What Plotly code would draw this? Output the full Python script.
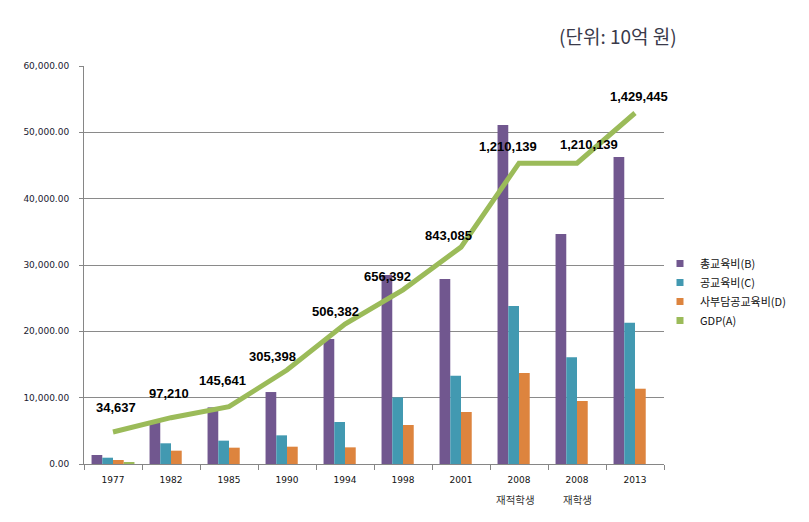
import plotly.graph_objects as go

categories = ["1977", "1982", "1985", "1990", "1994", "1998", "2001",
              "2008 재적학생", "2008 재학생", "2013"]
tick_labels = ["1977", "1982", "1985", "1990", "1994", "1998", "2001",
               "2008", "2008", "2013"]
sub_labels = {"2008 재적학생": "재적학생", "2008 재학생": "재학생"}

total_edu = [1360, 6380, 8540, 10850, 18850, 28500, 27900, 51100, 34680, 46280]      # 총교육비(B)
public_edu = [950, 3120, 3520, 4320, 6330, 10050, 13310, 23820, 16080, 21300]      # 공교육비(C)
private_burden = [600, 2010, 2460, 2610, 2510, 5880, 7840, 13720, 9500, 11350]     # 사부담공교육비(D)
gdp_bar = [300, 0, 0, 0, 0, 0, 0, 0, 0, 0]                                          # GDP(A) bar slot
gdp = [34637, 97210, 145641, 305398, 506382, 656392, 843085, 1210139, 1210139, 1429445]  # GDP(A)
gdp_text = ["34,637", "97,210", "145,641", "305,398", "506,382", "656,392",
            "843,085", "1,210,139", "1,210,139", "1,429,445"]

label_dx = [3, -2, -7, -15, -10, -16, -13, -11, 12, 4]
label_dy = [25, 24, 26, 14, 13, 13, 12, 17, 19, 17]

C_PURPLE = "#71578F"
C_TEAL = "#4299B1"
C_ORANGE = "#DD843E"
C_GREEN = "#9BBB59"

W, H = 809, 522
L, R, T, B = 84, 145, 66, 58
pw, ph = W - L - R, H - T - B

fig = go.Figure()
for name, vals, col in [("총교육비(B)", total_edu, C_PURPLE),
                        ("공교육비(C)", public_edu, C_TEAL),
                        ("사부담공교육비(D)", private_burden, C_ORANGE),
                        ("GDP(A)", gdp_bar, C_GREEN)]:
    fig.add_trace(go.Bar(x=categories, y=vals, name=name, marker_color=col,
                         marker_line_width=0, showlegend=False, hoverinfo="skip"))

fig.add_trace(go.Scatter(x=categories, y=gdp, yaxis="y2", mode="lines",
                         line=dict(color=C_GREEN, width=5), showlegend=False,
                         hoverinfo="skip"))

# legend entries (square symbols as in the reference)
for name, col in [("총교육비(B)", C_PURPLE), ("공교육비(C)", C_TEAL),
                  ("사부담공교육비(D)", C_ORANGE), ("GDP(A)", C_GREEN)]:
    fig.add_trace(go.Scatter(x=[categories[0]], y=[None], mode="markers", name=name,
                             marker=dict(symbol="square", size=7, color=col),
                             hoverinfo="skip"))

annotations = []
for i, (g, t, dx, dy) in enumerate(zip(gdp, gdp_text, label_dx, label_dy)):
    annotations.append(dict(x=i, y=g, xref="x", yref="y2", text="<b>" + t + "</b>",
                            showarrow=False, xshift=dx, yshift=dy,
                            xanchor="center", yanchor="middle",
                            font=dict(family="Liberation Sans", size=13, color="#000000")))
for i, c in enumerate(categories):
    if c in sub_labels:
        t = sub_labels[c]
        annotations.append(dict(x=i, y=0, xref="x", yref="paper", text=t, showarrow=False,
                                xshift=-4 if t == "재적학생" else 0, yshift=-35,
                                xanchor="center", yanchor="middle",
                                font=dict(family="Noto Sans CJK KR", size=10.5, color="#333333")))
annotations.append(dict(x=(618 - L) / pw, y=(H - B - 35) / ph, xref="paper", yref="paper",
                        text="(단위: 10억 원)", showarrow=False,
                        xanchor="center", yanchor="middle",
                        font=dict(family="Noto Sans CJK KR", size=19, color="#3a3a4a")))

fig.update_layout(
    width=W, height=H, autosize=False,
    margin=dict(l=L, r=R, t=T, b=B),
    paper_bgcolor="white", plot_bgcolor="white",
    barmode="group", bargap=0.26, bargroupgap=0,
    annotations=annotations,
    font=dict(family="DejaVu Sans", color="#222222"),
    legend=dict(x=(660 - L) / pw, y=(H - B - 249) / ph, xanchor="left", yanchor="top",
                font=dict(family="Noto Sans CJK KR", size=11, color="#111111"),
                bgcolor="rgba(0,0,0,0)", itemwidth=30, tracegroupgap=0),
    xaxis=dict(type="category", autotypenumbers="strict",
               categoryorder="array", categoryarray=categories,
               tickvals=categories, ticktext=tick_labels, range=[-0.5, len(categories) - 0.5],
               tickson="boundaries", ticks="outside", ticklen=5, tickcolor="#868686",
               showline=True, linecolor="#868686", linewidth=1, showgrid=False,
               ticklabelstandoff=7,
               tickfont=dict(family="DejaVu Sans", size=9, color="#111111")),
    yaxis=dict(range=[0, 60000], dtick=10000, tickformat=",.2f",
               ticks="outside", ticklen=4, tickcolor="#868686",
               showline=True, linecolor="#868686", linewidth=1,
               showgrid=True, gridcolor="#8a8a8a", gridwidth=1, zeroline=False,
               ticklabelstandoff=8,
               tickfont=dict(family="DejaVu Sans", size=9, color="#1a1a30")),
    yaxis2=dict(overlaying="y", range=[-105300, 1635000], visible=False),
)

fig.write_html("out.html")
